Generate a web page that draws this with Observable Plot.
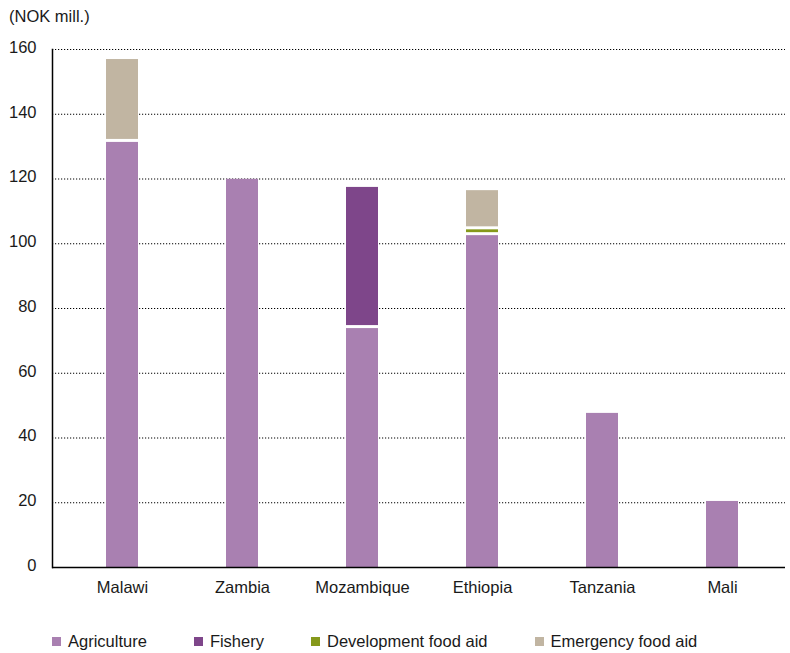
<!DOCTYPE html>
<html>
<head>
<meta charset="utf-8">
<script src="https://cdn.jsdelivr.net/npm/d3@7"></script>
<script src="https://cdn.jsdelivr.net/npm/@observablehq/plot@0.6"></script>
<style>
  html, body { margin: 0; padding: 0; background: #fff; }
  body { position: relative; width: 790px; height: 653px; font-family: "Liberation Sans", Arial, sans-serif; color: #1a1a1a; }
  #chart { position: absolute; left: 0; top: 0; }
  #unit { position: absolute; left: 9px; top: 7px; font-size: 16.5px; z-index: 2; }
  #legend { position: absolute; left: 52px; top: 632px; display: flex; gap: 47px; font-size: 16.5px; line-height: 19px; z-index: 2; }
  #legend .item { display: flex; align-items: center; }
  #legend .sw { width: 9px; height: 9px; margin-right: 7px; }
</style>
</head>
<body>
<div id="chart"></div>
<div id="unit">(NOK mill.)</div>
<div id="legend"></div>
<script>
// Countries and their allocations by category (NOK million)
const countries = ["Malawi", "Zambia", "Mozambique", "Ethiopia", "Tanzania", "Mali"];
const seriesNames = ["Agriculture", "Fishery", "Development food aid", "Emergency food aid"];
const agriculture      = [131.3, 119.9, 73.8, 102.5, 47.6, 20.4];
const fishery          = [0, 0, 43.6, 0, 0, 0];
const developmentAid   = [0, 0, 0, 1.8, 0, 0];
const emergencyAid     = [25.6, 0, 0, 12.1, 0, 0];
const yTicks = [0, 20, 40, 60, 80, 100, 120, 140, 160];
const colors = ["#a980b1", "#7e468a", "#86991b", "#c1b5a2"];

const seriesValues = [agriculture, fishery, developmentAid, emergencyAid];

// Stack the categories for each country, bottom to top
const rows = [];
countries.forEach((country, i) => {
  let base = 0;
  seriesNames.forEach((series, s) => {
    const v = seriesValues[s][i];
    if (v !== 0) rows.push({country, series, value: v, y1: base, y2: base + v});
    base += v;
  });
});

const chart = Plot.plot({
  width: 790,
  height: 653,
  marginTop: 49,
  marginBottom: 86,
  marginLeft: 52,
  marginRight: 5,
  style: {fontFamily: "'Liberation Sans', Arial, sans-serif", fontSize: "16.5px", color: "#1a1a1a", background: "#fff"},
  x: {domain: countries, range: [61, 783], paddingInner: 0.734, paddingOuter: 0.367, label: null},
  y: {domain: [0, 160], label: null},
  color: {domain: seriesNames, range: colors},
  marks: [
    Plot.ruleY(yTicks.filter(t => t > 0), {stroke: "#000", strokeDasharray: "1.2,1.8", strokeWidth: 1.2}),
    Plot.barY(rows.filter(r => r.series === "Agriculture"), {x: "country", y1: "y1", y2: "y2", fill: "series"}),
    Plot.barY(rows.filter(r => r.series !== "Agriculture"), {x: "country", y1: "y1", y2: "y2", fill: "series", insetBottom: 3}),
    Plot.axisY({ticks: yTicks, tickSize: 0, tickPadding: 16, dy: -2}),
    Plot.axisX({tickSize: 0, tickPadding: 14}),
    Plot.frame({anchor: "left", stroke: "#000", strokeWidth: 1.5}),
    Plot.ruleY([0], {stroke: "#000", strokeWidth: 1.6})
  ]
});
document.getElementById("chart").appendChild(chart);

// Legend below the plot
const legend = document.getElementById("legend");
seriesNames.forEach((name, i) => {
  const item = document.createElement("div");
  item.className = "item";
  const sw = document.createElement("span");
  sw.className = "sw";
  sw.style.background = colors[i];
  const label = document.createElement("span");
  label.textContent = name;
  item.appendChild(sw);
  item.appendChild(label);
  legend.appendChild(item);
});
</script>
</body>
</html>
